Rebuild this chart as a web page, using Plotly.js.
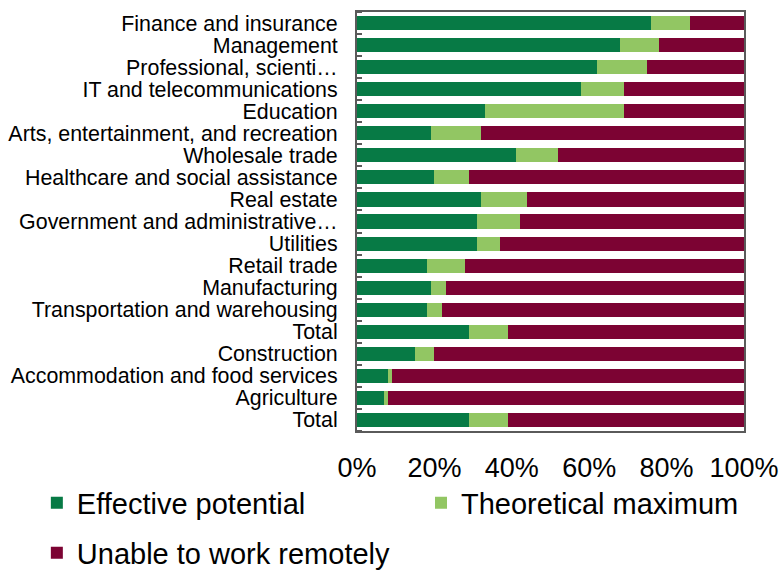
<!DOCTYPE html>
<html>
<head>
<meta charset="utf-8">
<script src="https://cdn.plot.ly/plotly-3.0.1.min.js"></script>
<style>html,body{margin:0;padding:0;background:#fff;}#chart{width:784px;height:571px;}</style>
</head>
<body>
<div id="chart"></div>
<script>
const categories = [
  "Finance and insurance",
  "Management",
  "Professional, scienti…",
  "IT and telecommunications",
  "Education",
  "Arts, entertainment, and recreation",
  "Wholesale trade",
  "Healthcare and social assistance",
  "Real estate",
  "Government and administrative…",
  "Utilities",
  "Retail trade",
  "Manufacturing",
  "Transportation and warehousing",
  "Total",
  "Construction",
  "Accommodation and food services",
  "Agriculture",
  "Total"
];
const effectivePotential = [0.76, 0.68, 0.62, 0.58, 0.33, 0.19, 0.41, 0.20, 0.32, 0.31, 0.31, 0.18, 0.19, 0.18, 0.29, 0.15, 0.08, 0.07, 0.29];
const theoreticalMaximum = [0.10, 0.10, 0.13, 0.11, 0.36, 0.13, 0.11, 0.09, 0.12, 0.11, 0.06, 0.10, 0.04, 0.04, 0.10, 0.05, 0.01, 0.01, 0.10];
const unableRemote     = [0.14, 0.22, 0.25, 0.31, 0.31, 0.68, 0.48, 0.71, 0.56, 0.58, 0.63, 0.72, 0.77, 0.78, 0.61, 0.80, 0.91, 0.92, 0.61];
const xTickVals = [0, 0.2, 0.4, 0.6, 0.8, 1.0];
const xTickText = ["0%", "20%", "40%", "60%", "80%", "100%"];

const rows = categories.map((c, i) => i);
const bounds = categories.map((c, i) => i - 0.5).concat([categories.length - 0.5]);

const FONT = "Liberation Sans, Arial, sans-serif";

function barTrace(name, values, color, legend) {
  return {
    type: "bar", orientation: "h", name: name,
    x: values, y: rows,
    marker: {color: color, line: {width: 0}},
    legend: legend,
    hoverinfo: "x+name"
  };
}

const data = [
  barTrace("Effective potential", effectivePotential, "#077A45", "legend"),
  barTrace("Theoretical maximum", theoreticalMaximum, "#92C663", "legend2"),
  barTrace("Unable to work remotely", unableRemote, "#7C0333", "legend3")
];

const legendBase = {
  orientation: "h", xref: "container", yref: "container",
  xanchor: "left", yanchor: "middle",
  bgcolor: "rgba(0,0,0,0)", borderwidth: 0,
  font: {family: FONT, size: 29, color: "#000"}
};

const layout = {
  width: 784, height: 571,
  margin: {l: 357, r: 40, t: 12, b: 140},
  paper_bgcolor: "#fff", plot_bgcolor: "#fff",
  barmode: "stack", bargap: 0.36,
  font: {family: FONT, color: "#000"},
  showlegend: true,
  xaxis: {
    range: [0, 1], tickvals: xTickVals, ticktext: xTickText,
    showgrid: false, zeroline: false, ticks: "",
    showline: true, mirror: true, linecolor: "#5a5a5a", linewidth: 2,
    tickfont: {family: FONT, size: 27, color: "#000"},
    ticklabelstandoff: 12, fixedrange: true
  },
  yaxis: {
    range: [categories.length - 0.5, -0.5],
    tickmode: "array", tickvals: rows, ticktext: categories,
    showgrid: false, zeroline: false, ticks: "",
    showline: true, mirror: true, linecolor: "#5a5a5a", linewidth: 2,
    tickfont: {family: FONT, size: 21.4, color: "#000"},
    ticklabelstandoff: 13,
    minor: {tickmode: "array", tickvals: bounds, ticks: "inside", ticklen: 5, tickwidth: 2, tickcolor: "#5a5a5a", showgrid: false},
    fixedrange: true
  },
  legend: Object.assign({}, legendBase, {x: 0.047, y: 1 - 503/571}),
  legend2: Object.assign({}, legendBase, {x: 0.537, y: 1 - 503/571}),
  legend3: Object.assign({}, legendBase, {x: 0.047, y: 1 - 553/571})
};

Plotly.newPlot("chart", data, layout, {displayModeBar: false, staticPlot: true});
</script>
</body>
</html>
